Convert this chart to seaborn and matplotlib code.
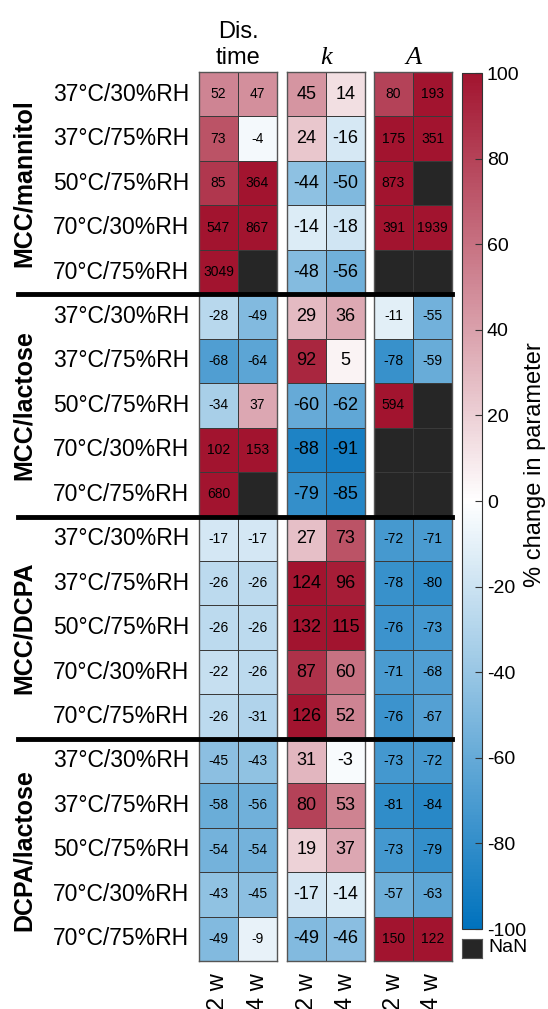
import numpy as np
import pandas as pd
import matplotlib

matplotlib.use('Agg')

import matplotlib.pyplot as plt
import matplotlib.transforms as mtransforms
from matplotlib.colors import LinearSegmentedColormap
import seaborn as sns

plt.rcParams['font.family'] = ['Liberation Sans', 'DejaVu Sans']
plt.rcParams['axes.unicode_minus'] = False

nan = np.nan

groups = ['MCC/mannitol', 'MCC/lactose', 'MCC/DCPA', 'DCPA/lactose']
conditions = ['37°C/30%RH', '37°C/75%RH', '50°C/75%RH', '70°C/30%RH', '70°C/75%RH']
weeks = ['2 w', '4 w']

# % change, rows = groups x conditions
dis_2w = [52, 73, 85, 547, 3049, -28, -68, -34, 102, 680, -17, -26, -26, -22, -26, -45, -58, -54, -43, -49]
dis_4w = [47, -4, 364, 867, nan, -49, -64, 37, 153, nan, -17, -26, -26, -26, -31, -43, -56, -54, -45, -9]
k_2w = [45, 24, -44, -14, -48, 29, 92, -60, -88, -79, 27, 124, 132, 87, 126, 31, 80, 19, -17, -49]
k_4w = [14, -16, -50, -18, -56, 36, 5, -62, -91, -85, 73, 96, 115, 60, 52, -3, 53, 37, -14, -46]
a_2w = [80, 175, 873, 391, nan, -11, -78, 594, nan, nan, -72, -78, -76, -71, -76, -73, -81, -73, -57, 150]
a_4w = [193, 351, nan, 1939, nan, -55, -59, nan, nan, nan, -71, -80, -73, -68, -67, -72, -84, -79, -63, 122]

rows = [c for g in groups for c in conditions]

cmap = LinearSegmentedColormap.from_list('matlab_rb', ['#0072BD', '#FFFFFF', '#A2142F'])
nan_color = '#262626'

W, H = 548, 1009
fig = plt.figure(figsize=(W / 100, H / 100), dpi=100)


def px(x0, y0, x1, y1):
    # pixel box -> figure fraction rect
    return [x0 / W, 1 - y1 / H, (x1 - x0) / W, (y1 - y0) / H]


panels = [
    (dict(label='Dis.\ntime', fontsize=17), dis_2w, dis_4w, 10),
    (dict(label='k', fontsize=19, fontfamily='Liberation Serif', fontstyle='italic'), k_2w, k_4w, 13),
    (dict(label='A', fontsize=19, fontfamily='Liberation Serif', fontstyle='italic'), a_2w, a_4w, 10),
]
lefts = [199, 287, 374]

cax = fig.add_axes(px(462, 73, 482, 929))

for i, (title, v2, v4, fs) in enumerate(panels):
    ax = fig.add_axes(px(lefts[i], 72, lefts[i] + 78, 961))
    ax.set_facecolor(nan_color)
    df = pd.DataFrame({weeks[0]: v2, weeks[1]: v4}, index=rows)
    sns.heatmap(df, ax=ax, cmap=cmap, vmin=-100, vmax=100,
                annot=True, fmt='.0f',
                annot_kws={'color': 'black', 'fontsize': fs},
                linewidths=0.6, linecolor='#3a3a3a',
                cbar=(i == 0), cbar_ax=cax if i == 0 else None)
    for s in ax.spines.values():
        s.set_visible(True)
        s.set_color('#555555')
        s.set_linewidth(1.0)
    ax.tick_params(length=0)
    ax.set_xticklabels(weeks, rotation=90, fontsize=17, va='top')
    ax.tick_params(axis='x', pad=9)
    if i == 0:
        ax.set_yticklabels(rows, rotation=0, fontsize=16.5)
        ax.tick_params(axis='y', pad=7)
        cbar = ax.collections[0].colorbar
    else:
        ax.set_yticks([])
    ax.set_title(title.pop('label'), pad=6, linespacing=1.2, **title)

# colorbar
cbar.set_ticks(np.arange(-100, 101, 20))
cax.tick_params(direction='in', length=5, width=0.8, labelsize=14, color='#333333')
cbar.outline.set_edgecolor('#333333')
cbar.outline.set_linewidth(0.8)
fig.text(535 / W, 1 - 465 / H, '% change in parameter', rotation=90,
         ha='center', va='center', fontsize=17)

# NaN legend box
nax = fig.add_axes(px(462, 939, 482, 958))
nax.set_facecolor(nan_color)
nax.set_xticks([])
nax.set_yticks([])
for s in nax.spines.values():
    s.set_color('#555555')
fig.text(488 / W, 1 - 948 / H, 'NaN', ha='left', va='center', fontsize=14)

# group separators and labels
over = fig.add_axes(px(18, 72, 452, 961))
over.set_xlim(0, 1)
over.set_ylim(len(rows), 0)
over.axis('off')
n = len(conditions)
for k in range(1, len(groups)):
    over.axhline(k * n, color='black', lw=3.5, clip_on=False)
trans = mtransforms.blended_transform_factory(over.transAxes, over.transData)
for k, g in enumerate(groups):
    over.text(0.014, k * n + n / 2, g, transform=trans, rotation=90,
              ha='center', va='center', fontsize=18, fontweight='bold')

fig.savefig('out.png', dpi=100)
